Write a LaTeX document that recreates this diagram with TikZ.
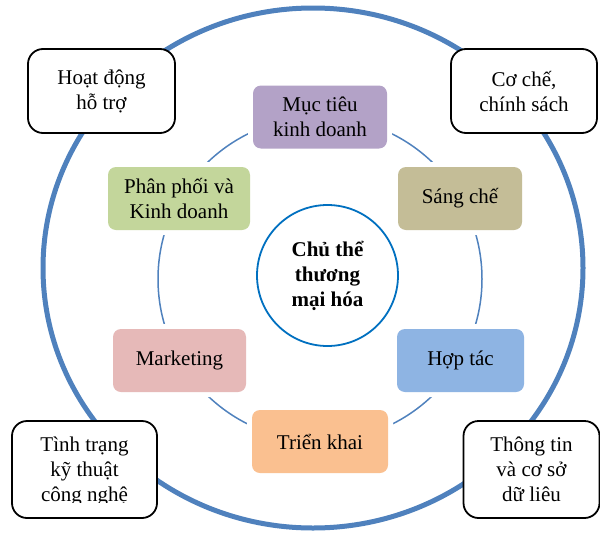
\documentclass[tikz,border=0pt]{standalone}
\usepackage{fontspec}
\setmainfont{Liberation Serif}
\definecolor{ringblue}{HTML}{4F81BD}
\definecolor{coreblue}{HTML}{0070C0}
\definecolor{goalpurple}{HTML}{B3A2C7}
\definecolor{patenttan}{HTML}{C4BD97}
\definecolor{distgreen}{HTML}{C3D69B}
\definecolor{mktpink}{HTML}{E6B9B8}
\definecolor{coopblue}{HTML}{8EB4E3}
\definecolor{deployorange}{HTML}{FAC090}

\begin{document}
\begin{tikzpicture}[x=1pt,y=-1pt,
    every node/.style={font=\fontsize{21}{25}\selectfont, align=center, inner sep=0pt},
    stage/.style={rounded corners=8pt, minimum height=63pt,
      preaction={draw=white, line width=10pt}},
    factor/.style={draw, line width=1.8pt, fill=white, rounded corners=15pt,
      minimum height=84pt}]
  \useasboundingbox (0,0) rectangle (600,533);

  % la grande ellipse et l'anneau
  \draw[ringblue, line width=5pt] (313,268) ellipse [x radius=270, y radius=260];
  \draw[ringblue, line width=1.5pt] (320,279) circle [radius=162];

  % le centre
  \node[circle, draw=coreblue, line width=1.8pt, fill=white, minimum size=141pt,
    font=\fontsize{21}{25}\selectfont\bfseries] (core) at (327.5,275.5)
    {Chủ thể\\thương\\mại hóa};

  % les etapes sur l'anneau
  \node[stage, fill=goalpurple, minimum width=134pt] (goal) at (320,117)
    {Mục tiêu\\kinh doanh};
  \node[stage, fill=patenttan, minimum width=124pt] (patent) at (460,198.5) {Sáng chế};
  \node[stage, fill=coopblue, minimum width=127pt] (coop) at (460.5,360.5) {Hợp tác};
  \node[stage, fill=deployorange, minimum width=136pt] (deploy) at (320,441.5) {Triển khai};
  \node[stage, fill=mktpink, minimum width=133pt] (mkt) at (179.5,360.5) {Marketing};
  \node[stage, fill=distgreen, minimum width=142pt] (distrib) at (179,198.5)
    {Phân phối và\\Kinh doanh};

  % les facteurs autour
  \node[factor, minimum width=147pt] (support) at (101.5,91) {Hoạt động\\hỗ trợ};
  \node[factor, minimum width=146pt] (policy) at (524,91) {Cơ chế,\\chính sách};
  \node[factor, minimum width=136pt, minimum height=97pt] (info) at (531.5,469.5)
    {\fontsize{21}{24.5}\selectfont Thông tin\\và cơ sở\\dữ liêu};
  \node[factor, minimum width=145pt, minimum height=97pt] (tech) at (84.5,469.5) {};
  \begin{scope}
    \clip (12,421) rectangle (157,502);
    \node (techtext) at ([yshift=-2pt]tech.center)
      {\fontsize{21}{23}\selectfont Tình trạng\\kỹ thuật\\công nghệ};
  \end{scope}
\end{tikzpicture}
\end{document}
